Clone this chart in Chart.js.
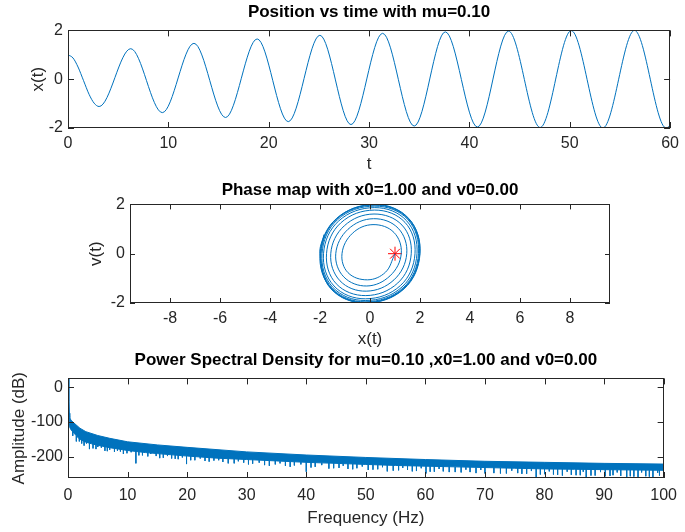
<!DOCTYPE html>
<html>
<head>
<meta charset="utf-8">
<script src="https://cdn.jsdelivr.net/npm/chart.js@4.4.0/dist/chart.umd.min.js"></script>
<style>
    html, body { margin: 0; padding: 0; background: #fff; overflow: hidden; }
    canvas { position: absolute; left: 0; }
</style>
</head>
<body>
<canvas id="pos" width="685" height="175" style="top:0"></canvas>
<canvas id="phase" width="685" height="175" style="top:175px"></canvas>
<canvas id="psd" width="685" height="182" style="top:350px"></canvas>
<script>
// --- position vs time (extrema, plus the first half swing) ---
const posT = [0, 0.5, 1.0, 1.55, 2.1, 2.6, 3.1, 6.25, 9.4, 12.55, 15.7, 18.85, 21.95, 25.1, 28.2,
    31.35, 34.5, 37.6, 40.8, 43.9, 47.05, 50.15, 53.3, 56.45, 59.6, 60];
const posX = [1.00, 0.87, 0.50, -0.06, -0.62, -0.98, -1.12, 1.25, -1.37, 1.47, -1.57, 1.65, -1.74, 1.80, -1.86,
    1.88, -1.92, 1.94, -1.96, 1.97, -1.98, 1.99, -2.00, 2.00, -2.00, -1.90];
const posTicksT = [0, 10, 20, 30, 40, 50, 60];
const posTicksX = [-2, 0, 2];

// --- phase map: eight points per turn of the spiral (x, v) ---
const phaseX = [1.00, 0.62, -0.10, -0.88, -1.12, -0.70, 0.12, 0.96, 1.25, 0.80, -0.13, -1.05, -1.37, -0.88,
    0.14, 1.13, 1.47, 0.96, -0.15, -1.20, -1.57, -1.03, 0.16, 1.28, 1.65, 1.11, -0.17, -1.35, -1.74, -1.17,
    0.18, 1.40, 1.80, 1.22, -0.18, -1.44, -1.86, -1.25, 0.19, 1.46, 1.88, 1.28, -0.19, -1.49, -1.92, -1.30,
    0.19, 1.51, 1.94, 1.32, -0.20, -1.52, -1.96, -1.33, 0.20, 1.53, 1.97, 1.34, -0.20, -1.54, -1.98, -1.34,
    0.20, 1.55, 1.99, 1.35, -0.20, -1.55, -2.00, -1.35, 0.20, 1.55, 2.00, 1.36, -0.20, -1.56, -2.00, -1.84];
const phaseV = [0.00, -0.75, -1.06, -0.77, 0.00, 0.83, 1.18, 0.86, 0.00, -0.90, -1.31, -0.94, 0.00, 0.99,
    1.42, 1.03, 0.00, -1.06, -1.52, -1.10, 0.00, 1.13, 1.61, 1.16, 0.00, -1.19, -1.70, -1.22, 0.00, 1.25,
    1.77, 1.27, 0.00, -1.29, -1.83, -1.31, 0.00, 1.33, 1.87, 1.34, 0.00, -1.35, -1.90, -1.36, 0.00, 1.38,
    1.93, 1.39, 0.00, -1.39, -1.95, -1.40, 0.00, 1.41, 1.97, 1.41, 0.00, -1.41, -1.98, -1.42, 0.00, 1.42,
    1.99, 1.42, 0.00, -1.42, -1.99, -1.42, 0.00, 1.42, 2.00, 1.43, 0.00, -1.43, -2.00, -1.43, 0.00, 0.78];
const startX = [1.0];
const startV = [0.0];
const phaseTicksX = [-8, -6, -4, -2, 0, 2, 4, 6, 8];
const phaseTicksV = [-2, 0, 2];

// --- PSD: upper and lower edge of the noisy band, plus the dips below it ---
const psdUpF = [0, 0.1, 0.2, 0.3, 0.5, 1, 2, 3, 5, 7, 10, 15, 20, 30, 40, 50, 60, 70, 80, 90, 100];
const psdUpDb = [25, -40, -75, -88, -95, -103, -118, -128, -139, -147, -157, -166, -173, -186, -195, -202,
    -208, -213, -216, -219, -221];
const psdLoF = [0, 0.15, 0.3, 0.6, 1, 1.5, 2, 3, 4, 5, 7, 10, 13, 15, 20, 25, 30, 35, 40, 45, 50, 55, 60,
    65, 70, 75, 80, 85, 90, 95, 100];
const psdLoDb = [25, -88, -116, -125, -132, -142, -150, -158, -163, -167, -174, -182, -188, -191, -198, -204,
    -208, -212, -216, -219, -222, -225, -227, -229, -231, -233, -235, -236, -237, -238, -239];
// deep dips: frequency, top inside the band, bottom
const dipF = [1.4, 2.3, 3.6, 4.2, 5.0, 6.2, 7.0, 7.8, 8.8, 9.9, 11.4, 12.5, 13.4, 14.8, 16.0, 17.4, 18.5,
    19.9, 21.3, 23.0, 24.5, 26.0, 27.9, 29.5, 31.0, 33.0, 34.8, 36.5, 38.0, 40.0, 41.5, 43.8, 45.5, 47.0,
    48.5, 50.4, 52.0, 53.6, 55.5, 57.0, 58.5, 60.1, 61.5, 63.0, 64.0, 66.0, 67.5, 70.0, 71.5, 73.6, 75.5,
    77.0, 78.6, 80.0, 81.5, 83.0, 84.5, 86.0, 87.0, 88.5, 90.2, 91.5, 92.8, 93.8, 95.0, 95.7, 97.0, 98.2, 99.3];
const dipHi = [-140, -146, -153, -156, -160, -164, -166, -168, -170, -172, -176, -178, -180, -182, -185,
    -187, -189, -191, -193, -195, -197, -199, -201, -203, -204, -206, -207, -209, -210, -212, -213, -215,
    -216, -217, -218, -219, -220, -221, -222, -223, -224, -225, -226, -227, -227, -228, -229, -229, -230,
    -231, -231, -232, -232, -233, -233, -234, -234, -235, -235, -235, -236, -236, -237, -237, -237, -238,
    -238, -238, -238];
const dipLo = [-156, -162, -178, -176, -172, -183, -180, -186, -185, -190, -219, -196, -199, -198, -203,
    -205, -207, -221, -210, -212, -211, -215, -219, -217, -220, -224, -222, -226, -225, -243, -229, -234,
    -232, -235, -233, -238, -236, -242, -239, -238, -241, -248, -243, -242, -244, -245, -244, -248, -247,
    -248, -247, -249, -258, -250, -251, -254, -252, -253, -261, -254, -256, -253, -255, -260, -257, -258,
    -256, -258, -254];
// shallow dips in between
const dip2F = [0.8, 1.9, 2.7, 3.1, 4.7, 5.6, 6.6, 8.3, 9.3, 10.6, 11.9, 13.9, 15.4, 16.7, 18.0, 19.2, 20.6,
    22.2, 23.7, 25.3, 26.9, 28.6, 30.3, 32.1, 33.8, 35.6, 37.3, 39.1, 40.8, 42.6, 44.6, 46.2, 47.8, 49.4,
    51.2, 52.8, 54.6, 56.2, 57.8, 59.3, 60.8, 62.3, 65.0, 66.8, 68.5, 69.3, 72.6, 74.5, 76.2, 77.8, 79.3,
    80.8, 82.2, 83.8, 85.3, 86.5, 87.8, 89.4, 91.0, 92.2, 94.4, 96.3, 97.6, 99.0];
const dip2Hi = [-128, -146, -152, -155, -163, -167, -170, -176, -178, -180, -183, -186, -189, -191, -193,
    -195, -197, -199, -201, -203, -205, -207, -208, -210, -211, -213, -214, -215, -216, -217, -218, -219,
    -220, -221, -222, -223, -224, -225, -226, -226, -227, -228, -229, -230, -231, -231, -232, -233, -233,
    -234, -234, -235, -235, -236, -236, -236, -237, -237, -237, -238, -238, -238, -239, -239];
const dip2Lo = [-140, -156, -168, -162, -178, -174, -184, -183, -192, -187, -196, -192, -204, -198, -206,
    -202, -210, -205, -214, -210, -219, -213, -222, -217, -226, -219, -229, -222, -231, -224, -233, -226,
    -236, -228, -237, -230, -240, -232, -242, -233, -243, -235, -244, -237, -247, -238, -248, -240, -249,
    -241, -251, -242, -252, -243, -253, -243, -254, -244, -255, -245, -256, -245, -257, -246];
const psdTicksF = [0, 10, 20, 30, 40, 50, 60, 70, 80, 90, 100];
const psdTicksDb = [-200, -100, 0];

const FONT = "'Liberation Sans', Arial, sans-serif";
const INK = '#262626';
const BLUE = '#0072BD';

// MATLAB-style box: frame plus inward ticks on all four sides
const boxTicks = {
    id: 'boxTicks',
    afterDatasetsDraw(chart, args, opts) {
        const { ctx, chartArea: a } = chart;
        const xs = chart.scales.x, ys = chart.scales.y;
        const len = opts.len || 5;
        ctx.save();
        ctx.strokeStyle = INK;
        ctx.lineWidth = 1;
        ctx.beginPath();
        xs.ticks.forEach(t => {
            const p = Math.round(xs.getPixelForValue(t.value)) + 0.5;
            ctx.moveTo(p, a.bottom); ctx.lineTo(p, a.bottom - len);
            ctx.moveTo(p, a.top); ctx.lineTo(p, a.top + len);
        });
        ys.ticks.forEach(t => {
            const p = Math.round(ys.getPixelForValue(t.value)) + 0.5;
            ctx.moveTo(a.left, p); ctx.lineTo(a.left + len, p);
            ctx.moveTo(a.right, p); ctx.lineTo(a.right - len, p);
        });
        ctx.stroke();
        ctx.strokeRect(Math.round(a.left) + 0.5, Math.round(a.top) + 0.5,
            Math.round(a.width) - 1, Math.round(a.height) - 1);
        ctx.restore();
    }
};

function xAxis(min, max, ticks, label, pad, titlePad, height) {
    return {
        type: 'linear', min, max,
        grid: { display: false, drawTicks: false },
        border: { display: false },
        afterBuildTicks: s => { s.ticks = ticks.map(v => ({ value: v })); },
        afterFit: s => { s.height = height; },
        ticks: { color: INK, font: { family: FONT, size: 16 }, padding: pad, maxRotation: 0, autoSkip: false, callback: v => String(v) },
        title: { display: true, text: label, color: INK, font: { family: FONT, size: 17 }, padding: titlePad },
    };
}

function yAxis(min, max, ticks, label, width, titlePad) {
    return {
        type: 'linear', min, max,
        grid: { display: false, drawTicks: false },
        border: { display: false },
        afterBuildTicks: s => { s.ticks = ticks.map(v => ({ value: v })); },
        afterFit: s => { s.width = width; },
        ticks: { color: INK, font: { family: FONT, size: 16 }, padding: 5, autoSkip: false, callback: v => String(v) },
        title: { display: true, text: label, color: INK, font: { family: FONT, size: 17 }, padding: titlePad },
    };
}

function titleOpts(text, top, bottom) {
    return {
        display: true, text, fullSize: false, color: '#000',
        font: { family: FONT, size: 17, weight: 'bold' },
        padding: { top, bottom },
    };
}

const common = {
    responsive: false,
    animation: false,
    events: [],
};

new Chart(document.getElementById('pos'), {
    type: 'line',
    data: {
        datasets: [{
            data: posT.map((t, i) => ({ x: t, y: posX[i] })),
            borderColor: BLUE, borderWidth: 1, pointRadius: 0,
            cubicInterpolationMode: 'monotone', fill: false,
        }],
    },
    options: {
        ...common,
        layout: { padding: { right: 13 } },
        plugins: {
            legend: { display: false }, tooltip: { enabled: false },
            title: titleOpts('Position vs time with mu=0.10', 2, 8),
            boxTicks: { len: 6 },
        },
        scales: {
            x: xAxis(0, 60, posTicksT, 't', 6, 0, 47),
            y: yAxis(-2, 2, posTicksX, 'x(t)', 68, 28),
        },
    },
    plugins: [boxTicks],
});

new Chart(document.getElementById('phase'), {
    type: 'scatter',
    data: {
        datasets: [{
            data: phaseX.map((x, i) => ({ x, y: phaseV[i] })),
            showLine: true, borderColor: BLUE, borderWidth: 1, pointRadius: 0, tension: 0.38,
        }, {
            data: startX.map((x, i) => ({ x, y: startV[i] })),
            pointStyle: 'star', pointRadius: 7, borderColor: '#FF0000', backgroundColor: '#FF0000', borderWidth: 1,
        }],
    },
    options: {
        ...common,
        layout: { padding: { right: 75 } },
        plugins: {
            legend: { display: false }, tooltip: { enabled: false },
            title: titleOpts('Phase map with x0=1.00 and v0=0.00', 5, 4),
            boxTicks: { len: 5 },
        },
        scales: {
            x: xAxis(-9.6, 9.6, phaseTicksX, 'x(t)', 6, 0, 47),
            y: yAxis(-2, 2, phaseTicksV, 'v(t)', 130, 86),
        },
    },
    plugins: [boxTicks],
});

// each dip is a short vertical segment; nulls break the line between them
const dipPoints = [];
dipF.forEach((f, i) => {
    dipPoints.push({ x: f, y: dipHi[i] }, { x: f, y: dipLo[i] }, { x: f, y: null });
});
const dip2Points = [];
dip2F.forEach((f, i) => {
    dip2Points.push({ x: f, y: dip2Hi[i] }, { x: f, y: dip2Lo[i] }, { x: f, y: null });
});

new Chart(document.getElementById('psd'), {
    type: 'line',
    data: {
        datasets: [{
            data: psdUpF.map((f, i) => ({ x: f, y: psdUpDb[i] })),
            borderColor: BLUE, borderWidth: 1, pointRadius: 0, fill: false,
        }, {
            data: psdLoF.map((f, i) => ({ x: f, y: psdLoDb[i] })),
            borderColor: BLUE, borderWidth: 1, pointRadius: 0, fill: '-1', backgroundColor: BLUE,
        }, {
            data: dipPoints,
            borderColor: BLUE, borderWidth: 1, pointRadius: 0, fill: false, spanGaps: false,
        }, {
            data: dip2Points,
            borderColor: BLUE, borderWidth: 1, pointRadius: 0, fill: false, spanGaps: false,
        }],
    },
    options: {
        ...common,
        layout: { padding: { right: 13 } },
        plugins: {
            legend: { display: false }, tooltip: { enabled: false },
            title: titleOpts('Power Spectral Density for mu=0.10 ,x0=1.00 and v0=0.00', 0, 8),
            boxTicks: { len: 6 },
        },
        scales: {
            x: xAxis(0, 100, psdTicksF, 'Frequency (Hz)', 8, 3, 54),
            y: yAxis(-261, 25, psdTicksDb, 'Amplitude (dB)', 68, 9),
        },
    },
    plugins: [boxTicks],
});
</script>
</body>
</html>
